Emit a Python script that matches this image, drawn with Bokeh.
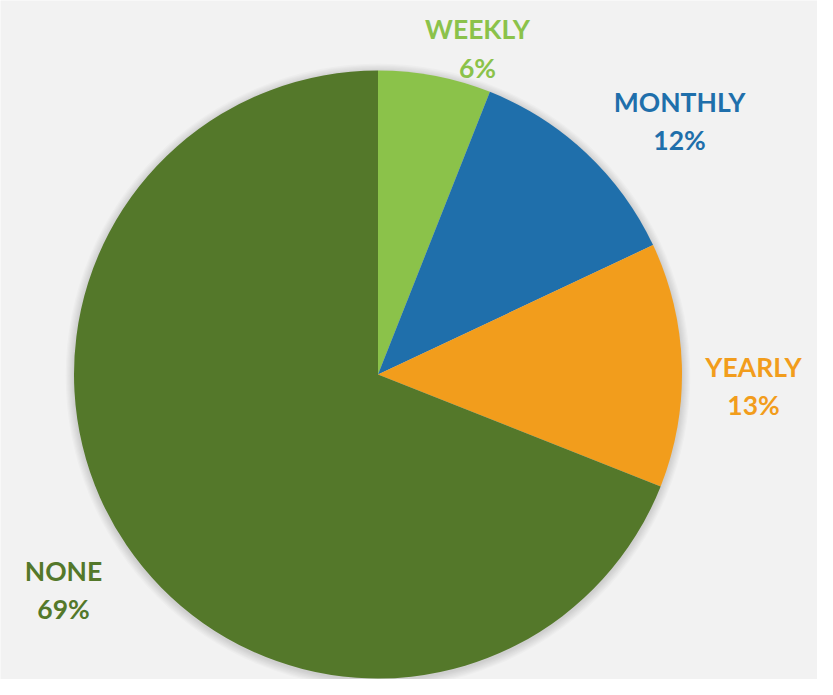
import math
from bokeh.plotting import figure
from bokeh.models import Range1d, ColumnDataSource
from bokeh.core.properties import value
from bokeh.embed import file_html
from bokeh.resources import INLINE

# ---- data ----
categories = ["WEEKLY", "MONTHLY", "YEARLY", "NONE"]
percents = [6, 12, 13, 69]
colors = ["#8bc24a", "#1f6fab", "#f29d1c", "#54782a"]

# ---- layout ----
W, H = 817, 679
cx, cy, R = 377.5, 305, 304
label_pos = {
    "WEEKLY": (477, 651, 612),
    "MONTHLY": (679, 578, 540),
    "YEARLY": (753, 313, 275),
    "NONE": (63, 109, 71),
}

p = figure(width=W, height=H, output_backend="svg", toolbar_location=None,
           x_range=Range1d(0, W), y_range=Range1d(0, H), min_border=0)
p.axis.visible = False
p.grid.visible = False
p.outline_line_color = None
p.background_fill_color = "#f2f2f2"
p.border_fill_color = "#f2f2f2"

# soft shadow
for i in range(1, 8):
    p.circle(x=[cx], y=[cy - 1.5], radius=R + i * 1.2, fill_color="black",
             fill_alpha=0.02, line_color=None)

total = sum(percents)
starts, ends = [], []
acc = 0.0
for v in percents:
    a0 = math.pi / 2 - 2 * math.pi * acc / total
    acc += v
    a1 = math.pi / 2 - 2 * math.pi * acc / total
    starts.append(a1)
    ends.append(a0)

src = ColumnDataSource(dict(cat=categories, val=percents, start=starts, end=ends, color=colors))
p.wedge(x=cx, y=cy, radius=R, start_angle="start", end_angle="end",
        fill_color="color", line_color=None, source=src)

for cat, v, col in zip(categories, percents, colors):
    x, y1, y2 = label_pos[cat]
    p.text(x=[x, x], y=[y1, y2], text=[cat, f"{v}%"], text_color=col,
           text_font=value("Lato"), text_font_style="bold", text_font_size="26.5px",
           text_align="center", text_baseline="alphabetic")

open("out.html", "w").write(file_html(p, INLINE))
